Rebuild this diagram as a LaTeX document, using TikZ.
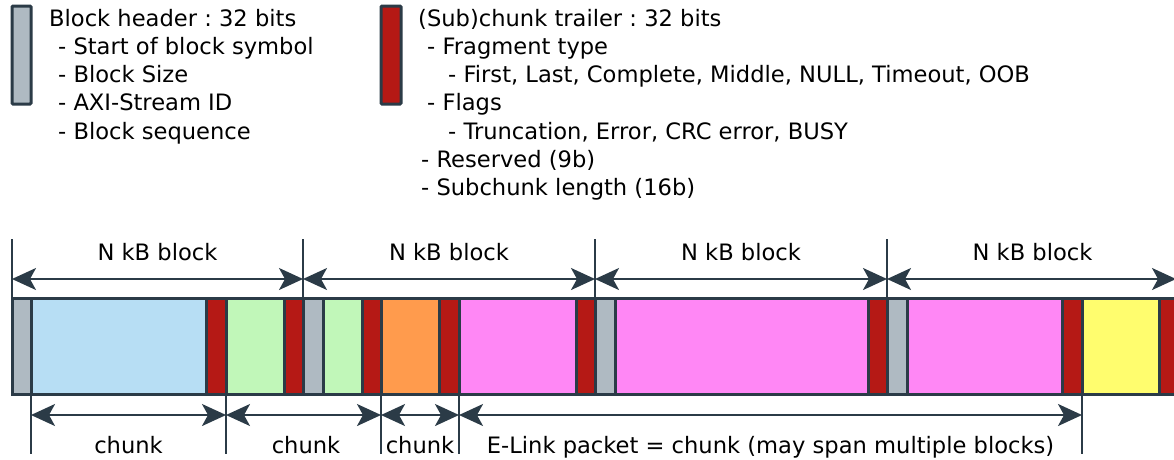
\documentclass[tikz,border=0pt]{standalone}
\usepackage{fontspec}
\setmainfont{DejaVu Sans}
\usetikzlibrary{arrows.meta,calc}
\frenchspacing

\definecolor{lc}{HTML}{2B3B47}
\definecolor{hdr}{HTML}{AFBAC2}
\definecolor{trl}{HTML}{B51915}
\definecolor{cblue}{HTML}{B7DEF4}
\definecolor{cgreen}{HTML}{C1F7B9}
\definecolor{corange}{HTML}{FF9B4D}
\definecolor{cpink}{HTML}{FF87F5}
\definecolor{cyellow}{HTML}{FFFD6E}

\begin{document}
\begin{tikzpicture}[x=1pt,y=-1pt,
  every node/.style={font=\fontsize{22.6}{28}\selectfont, inner sep=0pt, text=black},
  seg/.style={draw=lc, line width=3pt},
  legendbox/.style={draw=lc, line width=3pt, rounded corners=1pt},
  tick/.style={draw=lc, line width=2.5pt},
  dimtip/.tip={Stealth[length=24pt,width=22pt,inset=6pt]},
  halfdim/.style={draw=lc, line width=2pt, -{dimtip}},
  item/.style={anchor=base west}
]
\useasboundingbox (0,0) rectangle (1174,459);

% a double-headed dimension line, drawn as two halves from the middle
\newcommand\dimline[2]{%
  \draw[halfdim] ($(#1)!0.5!(#2)$) -- (#1);
  \draw[halfdim] ($(#1)!0.5!(#2)$) -- (#2);}

% ---- legend ----
\draw[legendbox, fill=hdr] (12,6) rectangle (31,104);
\node[item] (h0) at (49,26)    {Block header : 32 bits};
\node[item] (h1) at (58,54.3)  {- Start of block symbol};
\node[item] (h2) at (58,82.6)  {- Block Size};
\node[item] (h3) at (58,110.9) {- AXI-Stream ID};
\node[item] (h4) at (58,139.2) {- Block sequence};

\draw[legendbox, fill=trl] (381,6) rectangle (401,104);
\node[item] (t0) at (418,26)    {(Sub)chunk trailer : 32 bits};
\node[item] (t1) at (427,54.3)  {- Fragment type};
\node[item] (t2) at (448,82.6)  {- First, Last, Complete, Middle, NULL, Timeout, OOB};
\node[item] (t3) at (427,110.9) {- Flags};
\node[item] (t4) at (448,139.2) {- Truncation, Error, CRC error, BUSY};
\node[item] (t5) at (421,167.5) {- Reserved (9b)};
\node[item] (t6) at (421,195.8) {- Subchunk length (16b)};

% ---- block boundaries (dimension line level) ----
\coordinate (b0) at (12,279);
\coordinate (b1) at (303,279);
\coordinate (b2) at (595,279);
\coordinate (b3) at (887,279);
\coordinate (b4) at (1176,279);
\foreach \x in {12,303,595,887}
  \draw[tick] (\x,239) -- (\x,298);

% ---- segmented stream ----
\foreach \a/\b/\c in {
  12/31/hdr, 31/206/cblue, 206/226/trl, 226/284/cgreen, 284/303/trl,
  303/323/hdr, 323/362/cgreen, 362/381/trl, 381/439/corange, 439/459/trl,
  459/576/cpink, 576/595/trl, 595/615/hdr, 615/868/cpink, 868/887/trl,
  887/907/hdr, 907/1062/cpink, 1062/1082/trl, 1082/1159/cyellow, 1159/1180/trl}
  \draw[seg, fill=\c] (\a,298) rectangle (\b,394);

% ---- block dimension arrows ----
\dimline{b0}{b1}
\dimline{b1}{b2}
\dimline{b2}{b3}
\dimline{b3}{b4}
\foreach \i/\x in {1/157.5,2/449,3/741,4/1032.5}
  \node[anchor=base] (blk\i) at (\x,260) {N kB block};

% ---- chunk boundaries ----
\coordinate (c0) at (31,415);
\coordinate (c1) at (226,415);
\coordinate (c2) at (381,415);
\coordinate (c3) at (459,415);
\coordinate (c4) at (1082,415);
\foreach \x in {31,226,381,459,1082}
  \draw[tick] (\x,394) -- (\x,454);

\dimline{c0}{c1}
\dimline{c1}{c2}
\dimline{c2}{c3}
\dimline{c3}{c4}
\node[anchor=base] (ch1) at (128.5,453) {chunk};
\node[anchor=base] (ch2) at (306,453) {chunk};
\node[anchor=base] (ch3) at (420,453) {chunk};
\node[anchor=base] (ch4) at (770.5,453) {E-Link packet = chunk (may span multiple blocks)};
\end{tikzpicture}
\end{document}
